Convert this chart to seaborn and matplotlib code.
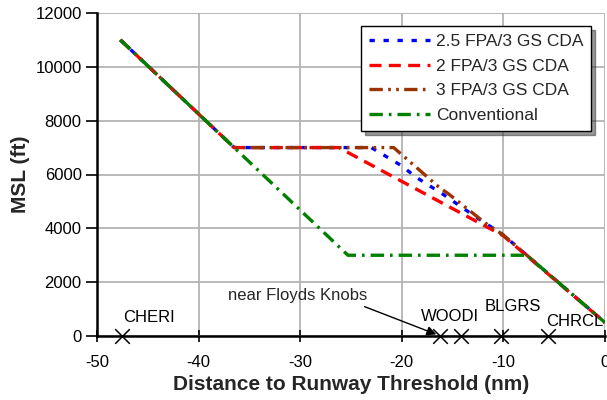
import matplotlib
matplotlib.use("Agg")
import matplotlib.pyplot as plt
import seaborn as sns
import pandas as pd
from matplotlib.ticker import MultipleLocator

# ---- data ----
fpa25_x = [-47.7, -36.5, -23.0, -20.0, -18.6, -16.0, -12.7, -10.0, 0.0]
fpa25_y = [11000, 7000, 7000, 6320, 5900, 5280, 4420, 3750, 500]
fpa2_x = [-47.7, -36.5, -26.2, -10.0, 0.0]
fpa2_y = [11000, 7000, 7000, 3720, 500]
fpa3_x = [-47.7, -36.5, -20.8, -16.4, -15.3, -11.8, -10.0, 0.0]
fpa3_y = [11000, 7000, 7000, 5550, 5250, 4200, 3750, 500]
conv_x = [-47.7, -36.5, -25.3, -7.7, 0.0]
conv_y = [11000, 7000, 3000, 3000, 500]
series_names = ["2.5 FPA/3 GS CDA", "2 FPA/3 GS CDA", "3 FPA/3 GS CDA", "Conventional"]

fix_x = [-47.5, -16.2, -14.2, -10.2, -5.6]
fix_y = [0, 0, 0, 0, 0]
fix_labels = ["CHERI", "WOODI", "BLGRS", "CHRCL"]
fix_label_x = [-47.4, -18.1, -11.8, -5.8]
fix_label_y = [670, 740, 1110, 550]

sns.set_style("white")
plt.rcParams["font.family"] = ["Liberation Sans", "DejaVu Sans"]
plt.rcParams["axes.unicode_minus"] = False

fig = plt.figure(figsize=(6.07, 4.0), dpi=100)
ax = fig.add_axes([97 / 607, 64 / 400, (605 - 97) / 607, (336 - 13) / 400])

colors = ["#0000FF", "#FF0000", "#993300", "#008000"]
dash_pats = [(1.6, 2.6), (3.6, 2.2), (4.0, 1.6, 0.8, 1.6, 0.8, 1.6), (4.0, 1.8, 0.8, 1.8)]
xs = [fpa25_x, fpa2_x, fpa3_x, conv_x]
ys = [fpa25_y, fpa2_y, fpa3_y, conv_y]

for name, x, y, c, d in zip(series_names, xs, ys, colors, dash_pats):
    df = pd.DataFrame({"x": x, "y": y})
    sns.lineplot(data=df, x="x", y="y", ax=ax, color=c, linewidth=2.4,
                 sort=False, estimator=None, label=name)
    ax.lines[-1].set_dashes(d)

fdf = pd.DataFrame({"x": fix_x, "y": fix_y})
sns.scatterplot(data=fdf, x="x", y="y", ax=ax, marker="x", color="black",
                s=110, linewidth=1.1, zorder=5, clip_on=False, legend=False)

for lab, lx, ly in zip(fix_labels, fix_label_x, fix_label_y):
    ax.text(lx, ly, lab, fontsize=12, ha="left", va="center", color="black")

ax.annotate("near Floyds Knobs", xy=(-16.6, 60), xytext=(-37.1, 1490),
            fontsize=12, ha="left", va="center",
            arrowprops=dict(arrowstyle="-|>", color="black", lw=1.0,
                            shrinkA=0, shrinkB=0, mutation_scale=14,
                            relpos=(0.92, 0.0)))

ax.set_xlim(-50, 0)
ax.set_ylim(0, 12000)
ax.xaxis.set_major_locator(MultipleLocator(10))
ax.xaxis.set_minor_locator(MultipleLocator(5))
ax.yaxis.set_major_locator(MultipleLocator(2000))
ax.grid(True, which="major", color="#b4b4b4", linewidth=1.3)
ax.set_axisbelow(True)

for s in ["top", "right"]:
    ax.spines[s].set_visible(False)
for s in ["left", "bottom"]:
    ax.spines[s].set_color("black")
    ax.spines[s].set_linewidth(1.8)

ax.tick_params(axis="x", which="major", direction="inout", length=9, width=1.2,
               labelsize=12, colors="black", pad=9)
ax.tick_params(axis="x", which="minor", direction="inout", length=6, width=1.0,
               colors="black")
ax.tick_params(axis="y", which="major", direction="out", length=8, width=1.2,
               labelsize=12, colors="black", left=True, pad=3)
ax.tick_params(axis="x", bottom=True)

ax.set_xlabel("Distance to Runway Threshold (nm)", fontsize=15, fontweight="bold", labelpad=4)
ax.set_ylabel("MSL (ft)", fontsize=15, fontweight="bold", labelpad=4)

leg = ax.legend(loc="upper left", bbox_to_anchor=(0.52, 0.96), fontsize=12.5,
                frameon=True, fancybox=False, shadow={"color": "0.2", "ox": 3, "oy": -3},
                handlelength=3.5, borderpad=0.45, labelspacing=0.55, handletextpad=0.35,
                borderaxespad=0)
leg.get_frame().set_edgecolor("black")
leg.get_frame().set_linewidth(1.0)
leg.get_frame().set_alpha(1.0)

fig.savefig("out.png", dpi=100)
